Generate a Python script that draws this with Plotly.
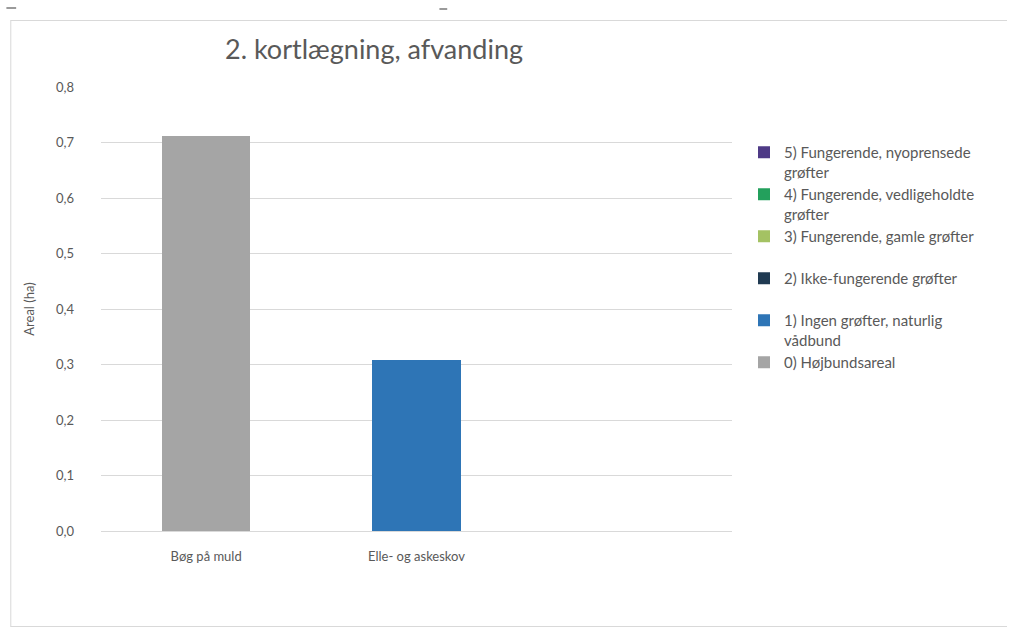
import plotly.graph_objects as go

categories = ["Bøg på muld", "Elle- og askeskov"]
series_names = [
    "0) Højbundsareal",
    "1) Ingen grøfter, naturlig<br>vådbund",
    "2) Ikke-fungerende grøfter<br> ",
    "3) Fungerende, gamle grøfter<br> ",
    "4) Fungerende, vedligeholdte<br>grøfter",
    "5) Fungerende, nyoprensede<br>grøfter",
]
s0_hojbund = [0.712, 0.0]
s1_ingen = [0.0, 0.309]
s2_ikke = [0.0, 0.0]
s3_gamle = [0.0, 0.0]
s4_vedl = [0.0, 0.0]
s5_nyop = [0.0, 0.0]
series_values = [s0_hojbund, s1_ingen, s2_ikke, s3_gamle, s4_vedl, s5_nyop]
colors = ["#a5a5a5", "#2e75b6", "#203a52", "#a4c263", "#23a05c", "#4e3a86"]
y_ticks = [0, 0.1, 0.2, 0.3, 0.4, 0.5, 0.6, 0.7, 0.8]
y_tick_labels = ["0,0", "0,1", "0,2", "0,3", "0,4", "0,5", "0,6", "0,7", "0,8"]

W, H = 1018, 628
L, R, T, B = 101, 748, 87, 531  # plot area in pixels

fig = go.Figure()
for name, vals, col in zip(series_names, series_values, colors):
    fig.add_trace(go.Bar(x=categories, y=vals, name=name, marker_color=col,
                         marker_line_width=0))

FONT = "Lato"
TXT = "#595959"

def px2paper_x(px):
    return (px - L) / (R - L)

def px2paper_y(py):
    return (B - py) / (B - T)

def frame_line(x0, y0, x1, y1, color="#d9d9d9", width=1):
    return dict(type="line", xref="paper", yref="paper",
                x0=px2paper_x(x0), x1=px2paper_x(x1),
                y0=px2paper_y(y0), y1=px2paper_y(y1),
                line=dict(color=color, width=width), layer="below")

shapes = [
    frame_line(8.5, 20, 8.5, 627),      # left edge of chart frame
    frame_line(8.5, 20.5, 1030, 20.5),  # top edge
    frame_line(8.5, 626.5, 1030, 626.5),  # bottom edge
    frame_line(4, 8, 14, 8, color="#9a9a9a", width=2),
    frame_line(448, 9, 456, 9, color="#9a9a9a", width=2),
]

fig.update_layout(
    width=W, height=H,
    margin=dict(l=L, r=W - R, t=T, b=H - B),
    paper_bgcolor="white", plot_bgcolor="white",
    barmode="stack", bargap=0.58,
    font=dict(family=FONT, color=TXT, size=13),
    title=dict(text="2. kortlægning, afvanding", x=374 / W, xanchor="center",
               xref="container", y=1 - 50 / H, yanchor="middle", yref="container",
               font=dict(family=FONT, size=27, color=TXT)),
    xaxis=dict(range=[-0.5, 2.5], showgrid=False, showline=False, zeroline=False,
               ticks="", tickfont=dict(size=13, color=TXT), ticklabelstandoff=16),
    yaxis=dict(range=[0, 0.8], tickvals=y_ticks, ticktext=y_tick_labels,
               showgrid=True, gridcolor="#d9d9d9", gridwidth=1,
               zeroline=True, zerolinecolor="#d9d9d9", zerolinewidth=1,
               showline=False, ticks="", tickfont=dict(size=13, color=TXT),
               ticklabelstandoff=26,
               title=dict(text="Areal (ha)", font=dict(size=13, color=TXT), standoff=18)),
    legend=dict(xref="container", yref="container", x=744 / W, y=1 - 136 / H,
                xanchor="left", yanchor="top", traceorder="reversed",
                font=dict(size=15, color=TXT), bgcolor="rgba(0,0,0,0)",
                valign="top"),
    shapes=shapes,
    showlegend=True,
)

fig.write_html("out.html", config={"displayModeBar": False},
               post_script="document.body.style.margin='0';document.body.style.overflow='hidden';")
